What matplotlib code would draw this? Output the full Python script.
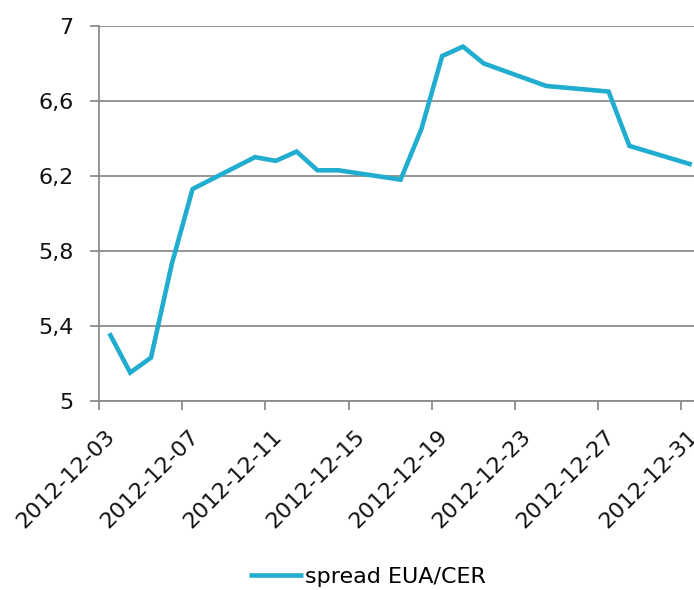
import matplotlib
matplotlib.use("Agg")
import matplotlib.pyplot as plt
import matplotlib.transforms as mtransforms
import datetime as dt

dates = ["2012-12-03", "2012-12-04", "2012-12-05", "2012-12-06", "2012-12-07",
         "2012-12-10", "2012-12-11", "2012-12-12", "2012-12-13", "2012-12-14",
         "2012-12-17", "2012-12-18", "2012-12-19", "2012-12-20", "2012-12-21",
         "2012-12-24", "2012-12-27", "2012-12-28", "2012-12-31"]
spread = [5.36, 5.15, 5.23, 5.73, 6.13,
          6.30, 6.28, 6.33, 6.23, 6.23,
          6.18, 6.45, 6.84, 6.89, 6.80,
          6.68, 6.65, 6.36, 6.26]
tick_dates = ["2012-12-03", "2012-12-07", "2012-12-11", "2012-12-15",
              "2012-12-19", "2012-12-23", "2012-12-27", "2012-12-31"]
y_ticks = [5, 5.4, 5.8, 6.2, 6.6, 7]
y_labels = ["5", "5,4", "5,8", "6,2", "6,6", "7"]

plt.rcParams['font.family'] = ['DejaVu Sans']

fig = plt.figure(figsize=(6.94, 5.90), dpi=100)
ax = fig.add_axes([99/694, 1-400.7/590, 1-99/694, (400.7-26)/590])

half = dt.timedelta(hours=12)
x = [dt.datetime.strptime(d, "%Y-%m-%d") + half for d in dates]
ax.plot(x, spread, color='#21ADCF', lw=3.3, solid_joinstyle='miter',
        solid_capstyle='butt', label='spread EUA/CER')

start = dt.datetime(2012, 12, 3)
end = start + dt.timedelta(days=(694-99)/20.8)
ax.set_xlim(start, end)
ax.set_ylim(5, 7)

fs = 16
ticks = [dt.datetime.strptime(d, "%Y-%m-%d") for d in tick_dates]
ax.set_xticks(ticks)
ax.set_xticklabels(tick_dates, rotation=45, ha='right', va='top',
                   rotation_mode='anchor', fontsize=fs, color='#111111')
ax.set_yticks(y_ticks)
ax.set_yticklabels(y_labels, fontsize=fs, color='#111111')

grid_c = '#8C8C8C'
for v in y_ticks:
    ax.axhline(v, color=grid_c, lw=1.3, zorder=0)
for s in ['top', 'right']:
    ax.spines[s].set_visible(False)
for s in ['left', 'bottom']:
    ax.spines[s].set_color(grid_c)
    ax.spines[s].set_linewidth(1.3)
ax.tick_params(axis='both', direction='out', color=grid_c, width=1.3, length=6.3)
ax.tick_params(axis='y', pad=12)
ax.tick_params(axis='x', pad=12)

offset = mtransforms.ScaledTranslation(0.06, 0, fig.dpi_scale_trans)
for lab in ax.get_xticklabels():
    lab.set_transform(lab.get_transform() + offset)

fig.legend(loc='center', bbox_to_anchor=(367.5/694, 1-577/590), frameon=False,
           fontsize=fs, handlelength=2.45, handletextpad=0.1,
           borderpad=0, borderaxespad=0)

fig.savefig("out.png", dpi=100)
